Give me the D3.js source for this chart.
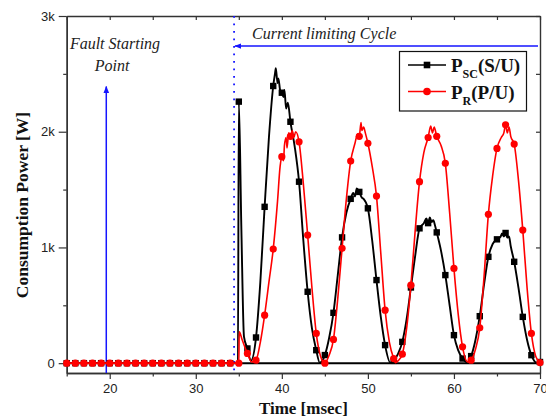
<!DOCTYPE html>
<html><head><meta charset="utf-8">
<script src="https://cdn.jsdelivr.net/npm/d3@7"></script>
<style>
html,body{margin:0;padding:0;background:#fff;}
svg{display:block;}
</style></head>
<body>
<svg id="chart" width="546" height="420"></svg>
<script>
// ---------------- data ----------------
const xTickValues = [20, 30, 40, 50, 60, 70];
const xMinorTicks = [15, 25, 35, 45, 55, 65];
const yTickValues = [0, 1000, 2000, 3000];
const yTickLabels = ["0", "1k", "2k", "3k"];
const yMinorTicks = [500, 1500, 2500];

const seriesNames = ["SC(S/U)", "R(P/U)"];

// P_SC (S/U) : time [ms], power [W]
const timeSC = [15,16,17,18,19,20,21,22,23,24,25,26,27,28,29,30,31,32,33,34,34.9,
  35,35.3,35.6,36,36.4,37,37.5,38,38.5,39,39.2,39.3,39.5,39.6,39.8,40,40.2,40.3,40.5,40.7,41,41.5,42,42.5,43,43.5,44,44.4,
  45,45.5,46,46.5,47,47.5,48,48.3,48.5,48.7,49,49.3,49.5,50,50.5,51,51.5,52,52.6,
  53,53.5,54,54.5,55,55.5,56,56.5,56.8,57,57.2,57.4,57.6,57.8,58,58.5,59,59.5,60,60.5,61,61.6,
  62,62.5,63,63.5,64,64.5,65,65.4,65.6,65.8,66,66.2,66.4,66.6,67,67.5,68,68.5,69,69.6,70];
const valueSC = [0,0,0,0,0,0,0,0,0,0,0,0,0,0,0,0,0,0,0,0,0,
  2260,1150,230,127,20,222,700,1351,1950,2395,2500,2550,2420,2460,2360,2337,2300,2360,2200,2250,2086,1870,1568,1060,617,300,112,5,
  70,220,435,760,1087,1300,1420,1470,1440,1510,1480,1430,1420,1338,1060,718,400,156,5,
  20,80,184,380,654,930,1165,1210,1250,1210,1260,1220,1235,1190,1130,970,761,500,242,110,40,5,
  61,200,406,680,919,1030,1070,1090,1120,1095,1125,1085,1095,1010,876,650,400,200,69,5,10];

// P_R (P/U) : time [ms], power [W]
const timeR = [15,16,17,18,19,20,21,22,23,24,25,26,27,28,29,30,31,32,33,34,
  35,35.05,35.4,36,36.5,37,37.5,38,38.5,39,39.5,39.8,40,40.2,40.3,40.5,40.6,40.8,41,41.2,41.4,41.6,42,42.5,43,43.5,44,44.5,
  45,45.5,46,46.5,47,47.5,48,48.5,48.8,49,49.2,49.3,49.5,49.7,50,50.5,51,51.5,52,52.5,
  53,53.2,53.5,54,54.5,55,55.5,56,56.5,57,57.3,57.5,57.7,58,58.5,59,59.5,60,60.5,61,61.6,
  62,62.5,63,63.5,64,64.5,65,65.5,65.8,66,66.2,66.4,66.6,67,67.5,68,68.5,69,69.5,70];
const valueR = [0,0,0,0,0,0,0,0,0,0,0,0,0,0,0,0,0,0,0,0,
  0,270,200,84,10,26,180,415,700,986,1400,1700,1784,1750,1880,1950,1860,1990,1960,2010,1950,2000,1913,1550,1107,650,257,60,
  0,70,205,560,992,1420,1746,1900,1980,1960,2080,2010,2040,1990,1900,1700,1444,950,458,180,
  40,5,20,78,300,674,1150,1568,1820,1950,2050,1990,2040,1960,1880,1727,1300,819,420,141,10,
  26,120,305,750,1286,1620,1856,1950,1990,2060,1990,2040,1960,1893,1580,1150,650,257,60,5];

// annotations (data units)
const faultTime = 19.6;
const limitStart = 34.45;
const arrowLevel = 2740;
const faultArrowTop = 2390;

// ---------------- layout ----------------
const svg = d3.select("#chart");
const L = 66.7, R = 540, T = 16, B = 373;
const x = d3.scaleLinear().domain([15, 70]).range([L, R]);
const y = d3.scaleLinear().domain([-85, 3000]).range([B, T]);

const blue = "#1515ff";
const frameColor = "#333";
const sans = "'Liberation Sans', Arial, sans-serif";
const serif = "'Liberation Serif', 'Times New Roman', serif";

svg.append("defs").html(`
  <marker id="ah" viewBox="0 0 10 10" refX="9" refY="5" markerWidth="7" markerHeight="7" orient="auto-start-reverse" markerUnits="userSpaceOnUse">
    <path d="M0,1 L10,5 L0,9 Z" fill="${blue}"/>
  </marker>`);

// zero reference line
svg.append("line").attr("x1", L).attr("x2", R).attr("y1", y(0)).attr("y2", y(0))
  .attr("stroke", "#000").attr("stroke-width", 2);

// ---------------- axes ----------------
function styleAxis(g) {
  g.selectAll(".domain").attr("stroke", frameColor).attr("stroke-width", 1.4);
  g.selectAll(".tick line").attr("stroke", frameColor).attr("stroke-width", 1.2);
  g.selectAll("text").attr("font-family", sans).attr("font-size", 13).attr("fill", "#222");
}
const gx = svg.append("g").attr("transform", `translate(0,${B})`)
  .call(d3.axisBottom(x).tickValues(xTickValues).tickSize(6).tickSizeOuter(0).tickPadding(5).tickFormat(d3.format("d")));
styleAxis(gx);
const gxm = svg.append("g").attr("transform", `translate(0,${B})`)
  .call(d3.axisBottom(x).tickValues(xMinorTicks).tickSize(3.5).tickSizeOuter(0).tickFormat(""));
styleAxis(gxm);

const gy = svg.append("g").attr("transform", `translate(${L},0)`)
  .call(d3.axisLeft(y).tickValues(yTickValues).tickSize(8).tickSizeOuter(0).tickPadding(4)
    .tickFormat((d, i) => yTickLabels[yTickValues.indexOf(d)]));
styleAxis(gy);
const gym = svg.append("g").attr("transform", `translate(${L},0)`)
  .call(d3.axisLeft(y).tickValues(yMinorTicks).tickSize(3.5).tickSizeOuter(0).tickFormat(""));
styleAxis(gym);

// top & right mirror axes, ticks inward
const gt = svg.append("g").attr("transform", `translate(0,${T})`)
  .call(d3.axisTop(x).tickValues(xTickValues.concat(xMinorTicks)).tickSize(-4).tickSizeOuter(0).tickFormat(""));
styleAxis(gt);
const gr = svg.append("g").attr("transform", `translate(${R},0)`)
  .call(d3.axisRight(y).tickValues(yTickValues.concat(yMinorTicks)).tickSize(-4).tickSizeOuter(0).tickFormat(""));
styleAxis(gr);

// axis titles
svg.append("text").attr("x", (L + R) / 2).attr("y", 414).attr("text-anchor", "middle")
  .attr("font-family", serif).attr("font-weight", "bold").attr("font-size", 17).attr("fill", "#111")
  .text("Time [msec]");
svg.append("text").attr("transform", "translate(28,205) rotate(-90)").attr("text-anchor", "middle")
  .attr("font-family", serif).attr("font-weight", "bold").attr("font-size", 17.5).attr("fill", "#111")
  .text("Consumption Power [W]");

// ---------------- annotations ----------------
svg.append("line").attr("x1", x(limitStart)).attr("x2", x(limitStart)).attr("y1", T).attr("y2", B)
  .attr("stroke", blue).attr("stroke-width", 1.8).attr("stroke-dasharray", "1.8,5.7");
svg.append("line").attr("x1", x(faultTime)).attr("x2", x(faultTime)).attr("y1", B).attr("y2", y(faultArrowTop))
  .attr("stroke", blue).attr("stroke-width", 1.5).attr("marker-end", "url(#ah)");
svg.append("line").attr("x1", R - 2).attr("x2", x(limitStart) + 1).attr("y1", y(arrowLevel)).attr("y2", y(arrowLevel))
  .attr("stroke", blue).attr("stroke-width", 1.5).attr("marker-end", "url(#ah)");

svg.append("text").attr("x", 252).attr("y", 39).attr("font-family", serif).attr("font-style", "italic")
  .attr("font-size", 16).attr("fill", "#222").text("Current limiting Cycle");
svg.append("text").attr("x", 115).attr("y", 49).attr("text-anchor", "middle").attr("font-family", serif)
  .attr("font-style", "italic").attr("font-size", 16).attr("fill", "#222").text("Fault Starting");
svg.append("text").attr("x", 112).attr("y", 71).attr("text-anchor", "middle").attr("font-family", serif)
  .attr("font-style", "italic").attr("font-size", 16).attr("fill", "#222").text("Point");

// ---------------- series ----------------
const line = d3.line().x(d => x(d[0])).y(d => y(d[1])).curve(d3.curveMonotoneX);
const dataSC = timeSC.map((t, i) => [t, valueSC[i]]);
const dataR = timeR.map((t, i) => [t, valueR[i]]);

svg.append("path").datum(dataSC).attr("d", line).attr("fill", "none")
  .attr("stroke", "#000").attr("stroke-width", 1.9).attr("stroke-linejoin", "round");
svg.append("g").selectAll("rect").data(dataSC.filter(d => Number.isInteger(d[0]))).join("rect")
  .attr("x", d => x(d[0]) - 3.2).attr("y", d => y(d[1]) - 3.2).attr("width", 6.4).attr("height", 6.4).attr("fill", "#000");

svg.append("path").datum(dataR).attr("d", line).attr("fill", "none")
  .attr("stroke", "#ff0000").attr("stroke-width", 1.6).attr("stroke-linejoin", "round");
svg.append("g").selectAll("circle").data(dataR.filter(d => Number.isInteger(d[0]))).join("circle")
  .attr("cx", d => x(d[0])).attr("cy", d => y(d[1])).attr("r", 3.6).attr("fill", "#ff0000");

// ---------------- legend ----------------
const lg = svg.append("g");
lg.append("rect").attr("x", 399.5).attr("y", 51.5).attr("width", 127).attr("height", 59.5)
  .attr("fill", "#fff").attr("stroke", "#111").attr("stroke-width", 1.2);
const legendRows = [
  {name: seriesNames[0], color: "#000", shape: "square", yy: 65},
  {name: seriesNames[1], color: "#ff0000", shape: "circle", yy: 91.5}
];
legendRows.forEach(r => {
  lg.append("line").attr("x1", 408).attr("x2", 446).attr("y1", r.yy).attr("y2", r.yy)
    .attr("stroke", r.color).attr("stroke-width", 1.5);
  if (r.shape === "square") {
    lg.append("rect").attr("x", 427 - 3.3).attr("y", r.yy - 3.3).attr("width", 6.6).attr("height", 6.6).attr("fill", r.color);
  } else {
    lg.append("circle").attr("cx", 427).attr("cy", r.yy).attr("r", 3.8).attr("fill", r.color);
  }
  const sub = r.name.slice(0, r.name.indexOf("("));
  const rest = r.name.slice(r.name.indexOf("("));
  const t = lg.append("text").attr("x", 451).attr("y", r.yy + 7).attr("font-family", serif)
    .attr("font-weight", "bold").attr("font-size", 19).attr("fill", "#111");
  t.append("tspan").text("P");
  t.append("tspan").attr("font-size", 12).attr("dy", 6).text(sub);
  t.append("tspan").attr("dy", -6).text(rest);
});
</script>
</body></html>
